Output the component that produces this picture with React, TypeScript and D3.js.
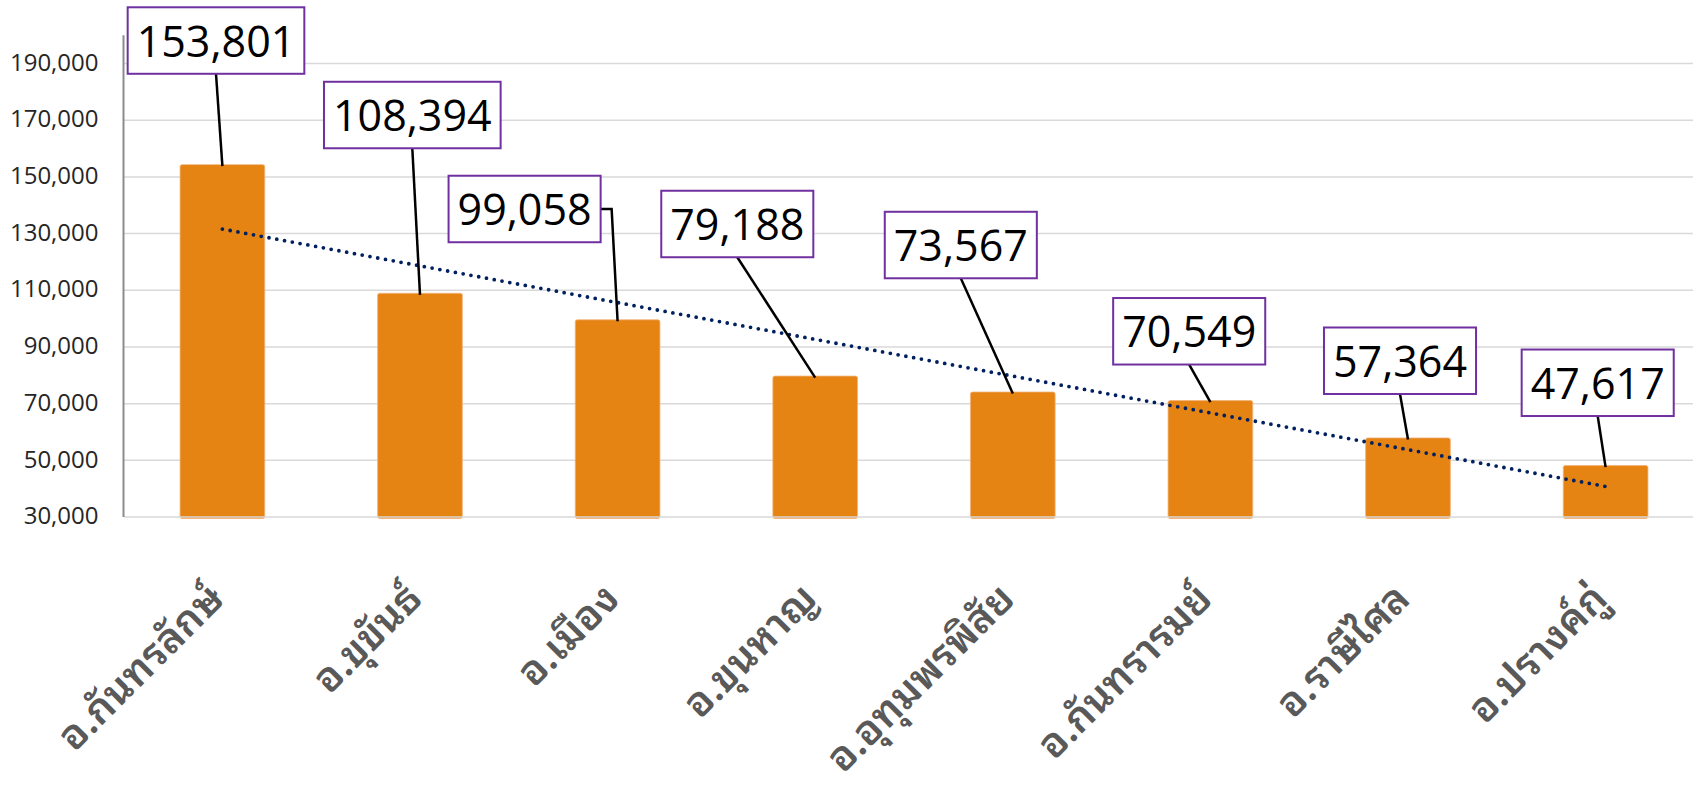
import React, { useEffect, useRef } from 'react';
import * as d3 from 'd3';

// ---- data ----
const districts = [
  'อ.กันทรลักษ์',
  'อ.ขุขันธ์',
  'อ.เมือง',
  'อ.ขุนหาญ',
  'อ.อุทุมพรพิสัย',
  'อ.กันทรารมย์',
  'อ.ราษีไศล',
  'อ.ปรางค์กู่',
];
const values = [153801, 108394, 99058, 79188, 73567, 70549, 57364, 47617];
const yTicks = [30000, 50000, 70000, 90000, 110000, 130000, 150000, 170000, 190000];

// manual data-label placement (box centre offset from bar top, px)
const labelOffsets: [number, number][] = [
  [-6.4, -125.6],
  [-7.7, -179.8],
  [-93, -112.3],
  [-77.9, -153.6],
  [-52, -148.5],
  [-21.2, -70.8],
  [-8, -78.7],
  [-7.9, -84.3],
];
const leaderFromSide = [false, false, true, false, false, false, false, false];

const W = 1693;
const H = 789;

export default function App() {
  const ref = useRef<SVGSVGElement>(null);

  useEffect(() => {
    document.body.style.margin = '0';
    const svg = d3.select(ref.current);
    svg.selectAll('*').remove();

    const x = d3
      .scaleBand<string>()
      .domain(districts)
      .range([123.6, 1704.4])
      .paddingInner(0.5714)
      .paddingOuter(0.2857);
    const y = d3.scaleLinear().domain([30000, 200000]).range([517, 35.2]);

    const numFont = "'Open Sans', 'Noto Sans', sans-serif";
    const thaiFont =
      "'Noto Sans Thai Looped', Tahoma, 'Leelawadee UI', 'Noto Sans Thai', 'Noto Sans Thai UI', 'Noto Sans', sans-serif";

    // gridlines (except baseline)
    svg
      .append('g')
      .selectAll('line')
      .data(yTicks.filter((t) => t !== 30000))
      .join('line')
      .attr('x1', 124)
      .attr('x2', W)
      .attr('y1', (d) => y(d))
      .attr('y2', (d) => y(d))
      .attr('stroke', '#d9d9d9')
      .attr('stroke-width', 1.5);

    // y tick labels
    svg
      .append('g')
      .selectAll('text')
      .data(yTicks)
      .join('text')
      .attr('x', 98.5)
      .attr('y', (d) => y(d))
      .attr('dy', '0.3em')
      .attr('text-anchor', 'end')
      .attr('font-family', numFont)
      .attr('font-size', 24)
      .attr('fill', '#262626')
      .text((d) => d3.format(',')(d));

    // bars
    svg
      .append('g')
      .selectAll('rect')
      .data(values)
      .join('rect')
      .attr('x', (_, i) => x(districts[i])!)
      .attr('width', x.bandwidth())
      .attr('y', (d) => y(d) - 1.5)
      .attr('height', (d) => y(30000) + 3 - y(d))
      .attr('rx', 2)
      .attr('fill', '#e58313')
      .attr('stroke', '#f2b27a')
      .attr('stroke-width', 0.8);

    // baseline gridline
    svg
      .append('line')
      .attr('x1', 124)
      .attr('x2', W)
      .attr('y1', y(30000))
      .attr('y2', y(30000))
      .attr('stroke', '#d9d9d9')
      .attr('stroke-width', 1.5);

    // y axis line
    svg
      .append('line')
      .attr('x1', 123.5)
      .attr('x2', 123.5)
      .attr('y1', y(200000))
      .attr('y2', y(30000))
      .attr('stroke', '#8c8c8c')
      .attr('stroke-width', 2);

    // linear trendline
    const n = values.length;
    const xs = values.map((_, i) => i + 1);
    const mx = d3.mean(xs)!;
    const my = d3.mean(values)!;
    const slope =
      d3.sum(xs.map((xi, i) => (xi - mx) * (values[i] - my))) /
      d3.sum(xs.map((xi) => (xi - mx) ** 2));
    const icpt = my - slope * mx;
    const cx = (i: number) => x(districts[i])! + x.bandwidth() / 2;
    const trend: [number, number][] = [
      [cx(0), y(icpt + slope * 1)],
      [cx(n - 1), y(icpt + slope * n)],
    ];
    svg
      .append('path')
      .attr('d', d3.line()(trend)!)
      .attr('fill', 'none')
      .attr('stroke', '#002060')
      .attr('stroke-width', 3.8)
      .attr('stroke-linecap', 'round')
      .attr('stroke-dasharray', '0 7.9');

    // x labels
    svg
      .append('g')
      .selectAll('text')
      .data(districts)
      .join('text')
      .attr('transform', (d, i) => `translate(${cx(i) + 4},601) rotate(-45)`)
      .attr('text-anchor', 'end')
      .attr('font-family', thaiFont)
      .attr('font-size', 41)
      .attr('font-weight', 600)
      .attr('fill', '#595959')
      .text((d) => d);

    // data labels with leader lines
    const lg = svg.append('g');
    values.forEach((v, i) => {
      const bx = cx(i);
      const by = y(v);
      const [dx, dy] = labelOffsets[i];
      const lcx = bx + dx;
      const lcy = by + dy;
      const txt = lg
        .append('text')
        .attr('x', lcx)
        .attr('y', lcy + 16)
        .attr('text-anchor', 'middle')
        .attr('font-family', numFont)
        .attr('font-size', 43)
        .attr('fill', '#000')
        .text(d3.format(',')(v));
      const tl = (txt.node() as SVGTextElement).getComputedTextLength();
      const bw = tl + 18;
      const bh = 66.5;
      // leader
      if (leaderFromSide[i]) {
        const sx = lcx + bw / 2;
        lg.insert('path', 'text')
          .attr('d', d3.line()([[sx, lcy], [sx + 11, lcy], [bx, by]])!)
          .attr('fill', 'none')
          .attr('stroke', '#000')
          .attr('stroke-width', 2.5);
      } else {
        lg.insert('line', 'text')
          .attr('x1', lcx)
          .attr('y1', lcy + bh / 2)
          .attr('x2', bx)
          .attr('y2', by)
          .attr('stroke', '#000')
          .attr('stroke-width', 2.5);
      }
      lg.insert('rect', 'text')
        .attr('x', lcx - bw / 2)
        .attr('y', lcy - bh / 2)
        .attr('width', bw)
        .attr('height', bh)
        .attr('fill', '#fff')
        .attr('stroke', '#7030a0')
        .attr('stroke-width', 2);
    });
  }, []);

  return (
    <svg
      ref={ref}
      width={W}
      height={H}
      style={{ display: 'block', background: '#fff' }}
    />
  );
}
